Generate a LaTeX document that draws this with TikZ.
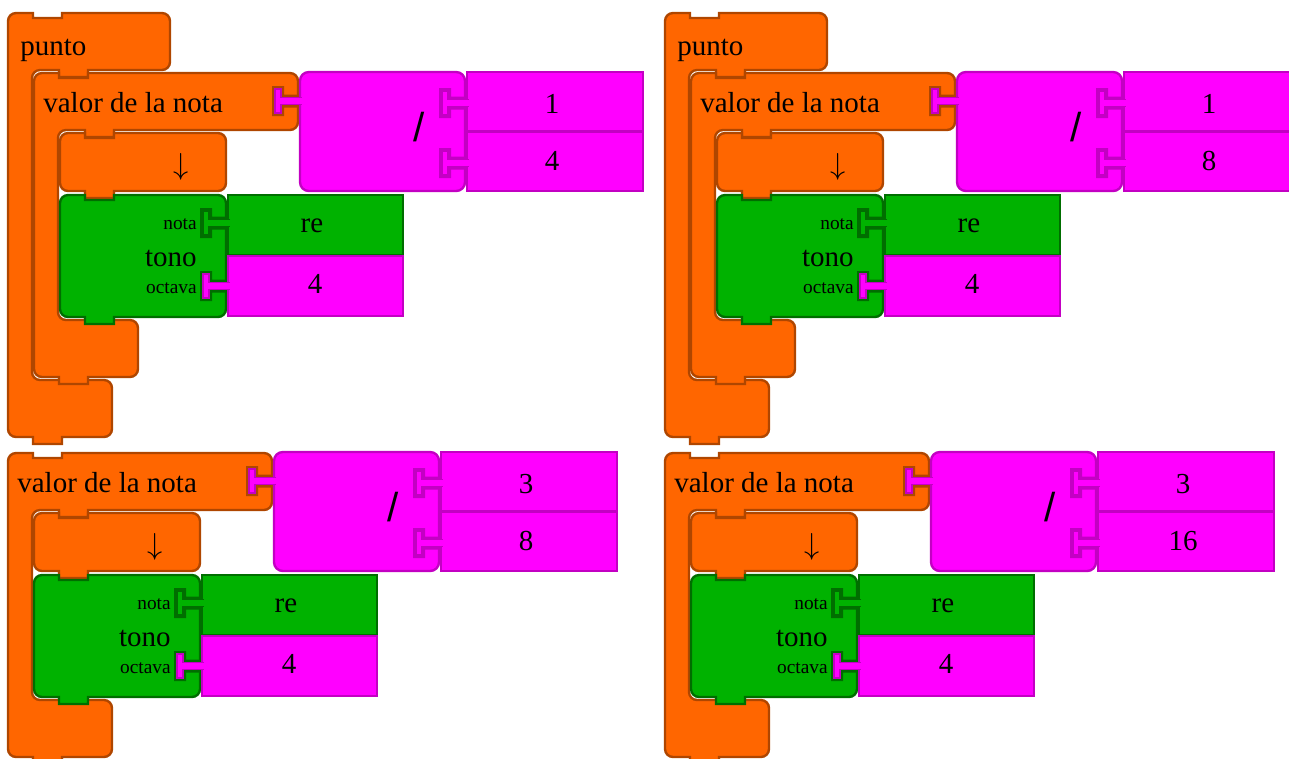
\documentclass[tikz,border=0pt]{standalone}
\usepackage{fontspec}
\setmainfont{Liberation Serif}
\newfontfamily\slashfont{Liberation Sans}
\usepackage{tikz}
\definecolor{mborange}{RGB}{255,102,0}
\definecolor{mborangeline}{RGB}{175,70,0}
\definecolor{mbgreen}{RGB}{0,178,0}
\definecolor{mbgreenline}{RGB}{0,110,0}
\definecolor{mbmagenta}{RGB}{255,0,255}
\definecolor{mbmagentaline}{RGB}{195,0,195}
\tikzset{
    orangeblk/.style = {fill=mborange, draw=mborangeline, line width=1.35pt},
    greenblk/.style = {fill=mbgreen, draw=mbgreenline, line width=1.35pt},
    magblk/.style = {fill=mbmagenta, draw=mbmagentaline, line width=1.35pt},
    lbl/.style = {inner sep=0pt, font=\fontsize{16.5}{19}\selectfont},
    smalllbl/.style = {inner sep=0pt, font=\fontsize{11}{13}\selectfont},
    divlbl/.style = {inner sep=0pt, font=\slashfont\fontsize{23}{26}\selectfont}
}
% clamp: style, x, y, top width, child offset, inner length, bottom width
\newcommand{\clampblock}[7]{%
  \pgfmathsetmacro\bkxa{#2+#5-2}
  \pgfmathsetmacro\bkxc{#2+#5}
  \pgfmathsetmacro\bkxw{#2+#4}
  \pgfmathsetmacro\bkxb{#2+#7}
  \pgfmathsetmacro\bkya{#3+57}
  \pgfmathsetmacro\bkyb{#3+57+#6}
  \pgfmathsetmacro\bkyc{#3+114+#6}
  \draw[#1] (#2,#3+8) .. controls (#2,#3+3.6) and (#2+3.6,#3) .. (#2+8,#3)
    -- (#2+25,#3) -- (#2+25,#3+5) -- (#2+54,#3+5) -- (#2+54,#3)
    -- (\bkxw-8,#3) .. controls (\bkxw-3.6,#3) and (\bkxw,#3+3.6) .. (\bkxw,#3+8)
    -- (\bkxw,\bkya-8) .. controls (\bkxw,\bkya-3.6) and (\bkxw-3.6,\bkya) .. (\bkxw-8,\bkya)
    -- (\bkxc+54,\bkya) -- (\bkxc+54,\bkya+7) -- (\bkxc+25,\bkya+7) -- (\bkxc+25,\bkya)
    -- (\bkxa+8,\bkya) .. controls (\bkxa+3.6,\bkya) and (\bkxa,\bkya+3.6) .. (\bkxa,\bkya+8)
    -- (\bkxa,\bkyb-8) .. controls (\bkxa,\bkyb-3.6) and (\bkxa+3.6,\bkyb) .. (\bkxa+8,\bkyb)
    -- (\bkxb-8,\bkyb) .. controls (\bkxb-3.6,\bkyb) and (\bkxb,\bkyb+3.6) .. (\bkxb,\bkyb+8)
    -- (\bkxb,\bkyc-8) .. controls (\bkxb,\bkyc-3.6) and (\bkxb-3.6,\bkyc) .. (\bkxb-8,\bkyc)
    -- (#2+54,\bkyc) -- (#2+54,\bkyc+7) -- (#2+25,\bkyc+7) -- (#2+25,\bkyc)
    -- (#2+8,\bkyc) .. controls (#2+3.6,\bkyc) and (#2,\bkyc-3.6) .. (#2,\bkyc-8)
    -- cycle;
}
% stack block: style, x, y, width, height
\newcommand{\stackblock}[5]{%
  \pgfmathsetmacro\bkxw{#2+#4}
  \pgfmathsetmacro\bkyh{#3+#5}
  \draw[#1] (#2,#3+8) .. controls (#2,#3+3.6) and (#2+3.6,#3) .. (#2+8,#3)
    -- (#2+25,#3) -- (#2+25,#3+5) -- (#2+54,#3+5) -- (#2+54,#3)
    -- (\bkxw-8,#3) .. controls (\bkxw-3.6,#3) and (\bkxw,#3+3.6) .. (\bkxw,#3+8)
    -- (\bkxw,\bkyh-8) .. controls (\bkxw,\bkyh-3.6) and (\bkxw-3.6,\bkyh) .. (\bkxw-8,\bkyh)
    -- (#2+54,\bkyh) -- (#2+54,\bkyh+7) -- (#2+25,\bkyh+7) -- (#2+25,\bkyh)
    -- (#2+8,\bkyh) .. controls (#2+3.6,\bkyh) and (#2,\bkyh-3.6) .. (#2,\bkyh-8)
    -- cycle;
}
% socket on a right edge with the plug of the argument block: host colour, plug style, x, y
\newcommand{\socket}[4]{%
  \fill[#1] (#3,#4-6.5) -- (#3-14,#4-6.5) -- (#3-14,#4-15) -- (#3-26,#4-15)
    -- (#3-26,#4+15) -- (#3-14,#4+15) -- (#3-14,#4+6.5) -- (#3,#4+6.5) -- cycle;
  \filldraw[#2, line width=0.6pt] (#3+4,#4-3.5) -- (#3-17,#4-3.5) -- (#3-17,#4-12)
    -- (#3-23,#4-12) -- (#3-23,#4+12) -- (#3-17,#4+12) -- (#3-17,#4+3.5) -- (#3+4,#4+3.5);
}
% note value with pitch: suffix, numerator, denominator
\newcommand{\notagroup}[3]{%
  \clampblock{orangeblk}{34}{73}{264}{26}{190}{104}
  \stackblock{orangeblk}{60}{133}{166}{58}
  \stackblock{greenblk}{60}{195}{166}{122}
  \draw[magblk, rounded corners=5pt] (300,72) rectangle (465,191);
  \socket{mborangeline}{magblk}{298}{101}
  \draw[magblk] (467,72) rectangle (643,131);
  \draw[magblk] (467,132) rectangle (643,191);
  \draw[greenblk] (228,195) rectangle (403,255);
  \draw[magblk] (228,256) rectangle (403,316);
  \socket{mbmagentaline}{magblk}{465}{103}
  \socket{mbmagentaline}{magblk}{465}{163}
  \socket{mbgreenline}{greenblk}{226}{223}
  \socket{mbgreenline}{magblk}{226}{286}
  %
  \node[lbl, anchor=base west] at (43,112) (valor#1) {valor de la nota};
  \node[lbl] at (181,167) (abajo#1) {$\downarrow$};
  \node[smalllbl, anchor=base east] at (197,229) (nota#1) {nota};
  \node[lbl, anchor=base east] at (197,266) (tono#1) {tono};
  \node[smalllbl, anchor=base east] at (197,293) (octava#1) {octava};
  \node[divlbl, anchor=base] at (419,141) (div#1) {/};
  \node[lbl, anchor=base] at (552,113) (num#1) {#2};
  \node[lbl, anchor=base] at (552,170) (den#1) {#3};
  \node[lbl, anchor=base] at (312,232) (re#1) {re};
  \node[lbl, anchor=base] at (315,293) (oct#1) {4};
}

\begin{document}
\begin{tikzpicture}[x=0.02cm, y=-0.02cm]
\useasboundingbox (0,0) rectangle (1289,758);
\clip (0,0) rectangle (1289,758);
%
\clampblock{orangeblk}{8}{13}{162}{26}{310}{104}
\node[lbl, anchor=base west] at (20,55) (punto1) {punto};
\notagroup{1}{1}{4}
%
\begin{scope}[shift={(657,0)}]
\clampblock{orangeblk}{8}{13}{162}{26}{310}{104}
\node[lbl, anchor=base west] at (20,55) (punto2) {punto};
\notagroup{2}{1}{8}
\end{scope}
%
\begin{scope}[shift={(-26,380)}]
\notagroup{3}{3}{8}
\end{scope}
\begin{scope}[shift={(631,380)}]
\notagroup{4}{3}{16}
\end{scope}

\end{tikzpicture}
\end{document}
